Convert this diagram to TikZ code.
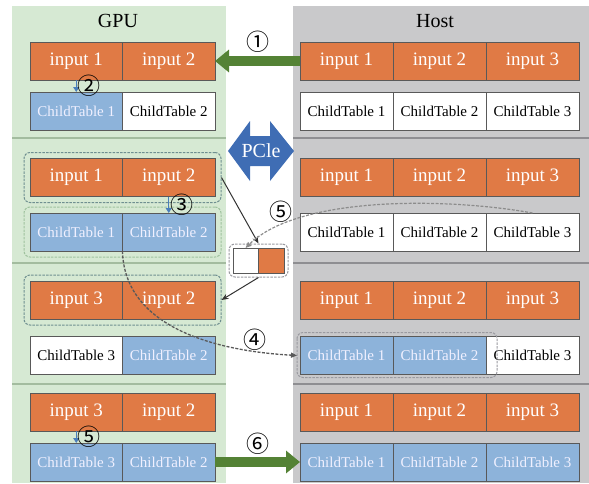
\documentclass[tikz,border=0pt]{standalone}
\usepackage{fontspec}
\setmainfont{Liberation Serif}
\newfontfamily\circfont{Noto Sans CJK SC}
\usetikzlibrary{positioning, fit, arrows.meta}
\definecolor{gpubg}{HTML}{D6E9D3}
\definecolor{hostbg}{HTML}{C9C9CB}
\definecolor{inorange}{HTML}{E07A45}
\definecolor{tabblue}{HTML}{8DB3DA}
\definecolor{pathgreen}{HTML}{548235}
\definecolor{busblue}{HTML}{3F6DB4}
\definecolor{hopblue}{HTML}{4A7EBB}
\definecolor{grpteal}{HTML}{6F8F90}
\definecolor{grpgreen}{HTML}{9FC29E}
\definecolor{grpgray}{HTML}{9A9AA0}
\tikzset{
  cell/.style={
    draw=black!65, line width=0.8pt,
    inner sep=0pt, outer sep=0pt,
    minimum height=38pt
  },
  gcell/.style={cell, minimum width=92.5pt},
  hcell/.style={cell, minimum width=93pt},
  inbuf/.style={fill=inorange, text=white, font=\fontsize{19}{21}\selectfont},
  loaded/.style={fill=tabblue, text=white!94!blue, font=\fontsize{15}{17}\selectfont},
  free/.style={fill=white, text=black, font=\fontsize{15}{17}\selectfont},
  grp/.style={
    draw=#1, line width=1pt, dash pattern=on 2.5pt off 1.2pt,
    rounded corners=6pt, inner sep=6pt
  },
  title/.style={font=\fontsize{20}{22}\selectfont},
  num/.style={font=\circfont\fontsize{23}{23}\selectfont, inner sep=0pt},
  copy/.style={draw=pathgreen, line width=10pt, -{Triangle[length=14pt,width=22pt]}},
  hop/.style={draw=hopblue, line width=1.1pt, -{Triangle[length=5pt,width=6pt]}},
  move/.style={draw=black!80, line width=1pt, -{Stealth[length=7pt,width=5.5pt]}},
  carry/.style={draw=black!65, line width=1.3pt, dash pattern=on 3pt off 1.5pt,
    -{Triangle[length=6pt,width=5pt]}},
  fetch/.style={draw=black!45, line width=1.2pt, dash pattern=on 3pt off 1.5pt,
    -{Triangle[length=6pt,width=5pt]}}
}

\begin{document}
\begin{tikzpicture}[x=1pt, y=-1pt, node distance=0pt]
  \useasboundingbox (0,0) rectangle (589,483);

  % the two sides
  \fill[gpubg] (12,6) rectangle (226,483);
  \fill[hostbg] (293,6) rectangle (589,483);
  \foreach \y in {138,263,384} {
    \draw[line width=1.8pt, draw={rgb,255:red,163;green,188;blue,159}] (12,\y) -- (226,\y);
    \draw[line width=1.8pt, draw={rgb,255:red,142;green,142;blue,146}] (293,\y) -- (589,\y);
  }
  \node[title] (gpu) at (118,21) {GPU};
  \node[title] (host) at (435,21) {Host};

  % bus between them
  \fill[busblue] (228,151) -- (250,121) -- (250,136) -- (270,136) -- (270,121)
    -- (294,151) -- (270,181) -- (270,166) -- (250,166) -- (250,181) -- cycle;
  \node[text=white, font=\fontsize{20}{22}\selectfont] (bus) at (261,151) {PCle};

  % step 1
  \node[gcell, inbuf] (gin1a) at (76.25,61) {input 1};
  \node[gcell, inbuf, right=of gin1a] (gin1b) {input 2};
  \node[gcell, loaded] (gtab1a) at (76.25,111) {ChildTable 1};
  \node[gcell, free, right=of gtab1a] (gtab1b) {ChildTable 2};
  \node[hcell, inbuf] (hin1a) at (346.5,61) {input 1};
  \node[hcell, inbuf, right=of hin1a] (hin1b) {input 2};
  \node[hcell, inbuf, right=of hin1b] (hin1c) {input 3};
  \node[hcell, free] (htab1a) at (346.5,111) {ChildTable 1};
  \node[hcell, free, right=of htab1a] (htab1b) {ChildTable 2};
  \node[hcell, free, right=of htab1b] (htab1c) {ChildTable 3};

  % step 2
  \node[gcell, inbuf] (gin2a) at (76.25,177.5) {input 1};
  \node[gcell, inbuf, right=of gin2a] (gin2b) {input 2};
  \node[gcell, loaded] (gtab2a) at (76.25,232) {ChildTable 1};
  \node[gcell, loaded, right=of gtab2a] (gtab2b) {ChildTable 2};
  \node[hcell, inbuf] (hin2a) at (346.5,177.5) {input 1};
  \node[hcell, inbuf, right=of hin2a] (hin2b) {input 2};
  \node[hcell, inbuf, right=of hin2b] (hin2c) {input 3};
  \node[hcell, free] (htab2a) at (346.5,232) {ChildTable 1};
  \node[hcell, free, right=of htab2a] (htab2b) {ChildTable 2};
  \node[hcell, free, right=of htab2b] (htab2c) {ChildTable 3};
  \node[grp=grpteal, fit=(gin2a)(gin2b)] (gin2) {};
  \node[grp=grpgreen, fit=(gtab2a)(gtab2b)] (gtab2) {};

  % swap buffer
  \node[cell, free, minimum width=25pt, minimum height=25pt] (bufa) at (245.5,260.5) {};
  \node[cell, inbuf, minimum width=26pt, minimum height=25pt, right=of bufa] (bufb) {};
  \node[grp=grpgray, fit=(bufa)(bufb), inner sep=4pt] (buf) {};

  % step 3
  \node[gcell, inbuf] (gin3a) at (76.25,300) {input 3};
  \node[gcell, inbuf, right=of gin3a] (gin3b) {input 2};
  \node[gcell, free] (gtab3a) at (76.25,355.5) {ChildTable 3};
  \node[gcell, loaded, right=of gtab3a] (gtab3b) {ChildTable 2};
  \node[hcell, inbuf] (hin3a) at (346.5,300) {input 1};
  \node[hcell, inbuf, right=of hin3a] (hin3b) {input 2};
  \node[hcell, inbuf, right=of hin3b] (hin3c) {input 3};
  \node[hcell, loaded] (htab3a) at (346.5,355.5) {ChildTable 1};
  \node[hcell, loaded, right=of htab3a] (htab3b) {ChildTable 2};
  \node[hcell, free, right=of htab3b] (htab3c) {ChildTable 3};
  \node[grp=grpteal, fit=(gin3a)(gin3b)] (gin3) {};
  \draw[grp=grpgray] ([xshift=-3pt,yshift=4pt]htab3a.north west)
    rectangle ([xshift=11pt,yshift=-3pt]htab3b.south east);

  % step 4
  \node[gcell, inbuf] (gin4a) at (76.25,412) {input 3};
  \node[gcell, inbuf, right=of gin4a] (gin4b) {input 2};
  \node[gcell, loaded] (gtab4a) at (76.25,462) {ChildTable 3};
  \node[gcell, loaded, right=of gtab4a] (gtab4b) {ChildTable 2};
  \node[hcell, inbuf] (hin4a) at (346.5,412) {input 1};
  \node[hcell, inbuf, right=of hin4a] (hin4b) {input 2};
  \node[hcell, inbuf, right=of hin4b] (hin4c) {input 3};
  \node[hcell, loaded] (htab4a) at (346.5,462) {ChildTable 1};
  \node[hcell, loaded, right=of htab4a] (htab4b) {ChildTable 2};
  \node[hcell, loaded, right=of htab4b] (htab4c) {ChildTable 3};

  % transfers
  \draw[copy] (hin1a.west) -- node[num, above=3.5pt] {①} (gin1b.east);
  \draw[hop] (gin1a.south) -- node[num, right=1pt] {②} (gtab1a.north);
  \draw[hop] (gin2b.south) -- node[num, right=1pt] {③} (gtab2b.north);
  \draw[move] (gin2.east) -- (buf.north);
  \draw[move] (buf.south) -- (gin3.east);
  \draw[fetch] (htab2c.north) .. controls (450,198) and (300,195)
    .. node[num, pos=.83, above=2.5pt] {⑤} (bufa.north);
  \draw[carry] (gtab2a.south east) .. controls (124,320) and (200,350)
    .. node[num, pos=.85, above=0pt] {④} ([xshift=-3pt]htab3a.west);
  \draw[hop] (gin4a.south) -- node[num, right=1pt] {⑤} (gtab4a.north);
  \draw[copy] (gtab4b.east) -- node[num, above=2.5pt] {⑥} (htab4a.west);
\end{tikzpicture}
\end{document}
